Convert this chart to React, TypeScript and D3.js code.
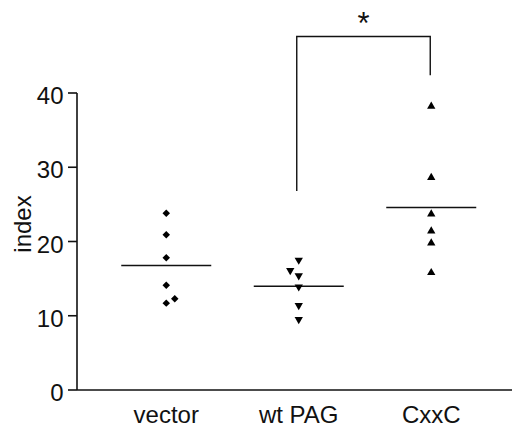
import React from "react";
import * as d3 from "d3";

const categories = ["vector", "wt PAG", "CxxC"];
const vectorValues = [23.8, 20.9, 17.8, 14.1, 11.7, 12.3];
const wtPagValues = [17.5, 16.1, 15.4, 13.9, 11.4, 9.5];
const cxxcValues = [38.2, 28.6, 23.7, 21.4, 19.8, 15.8];
// side-step for overlapping points (-1 left, 1 right)
const vectorDodge = [0, 0, 0, 0, 0, 1];
const wtPagDodge = [0, -1, 0, 0, 0, 0];
const cxxcDodge = [0, 0, 0, 0, 0, 0];
const yTicks = [0, 10, 20, 30, 40];

// significance bracket, in data units
const bracketTop = 47.6;
const bracketLeftEnd = 26.8;
const bracketRightEnd = 42.4;

const W = 512;
const H = 427;
const font = "'Liberation Sans', Arial, sans-serif";

export default function App() {
  const x = d3.scaleBand<string>().domain(categories).range([100, 497.5]);
  const y = d3.scaleLinear().domain([0, 40]).range([390, 93]);
  const cx = (c: string) => (x(c) as number) + x.bandwidth() / 2;

  const groups = [
    { name: categories[0], values: vectorValues, dodge: vectorDodge, shape: "diamond" },
    { name: categories[1], values: wtPagValues, dodge: wtPagDodge, shape: "down" },
    { name: categories[2], values: cxxcValues, dodge: cxxcDodge, shape: "up" },
  ];

  const diamond = d3.symbol(d3.symbolSquare, 28)();
  const tri = d3.symbol(d3.symbolTriangle, 30)();
  const markerPath = (shape: string) => (shape === "diamond" ? diamond : tri);
  const markerRot = (shape: string) => (shape === "diamond" ? 45 : shape === "down" ? 180 : 0);

  const x0 = 77;
  const leftX = cx(categories[1]) - 2;
  const rightX = cx(categories[2]) - 1;

  return (
    <svg width={W} height={H} style={{ position: "absolute", left: 0, top: 0 }} fontFamily={font}>
      <rect width={W} height={H} fill="#fff" />

      {/* y axis */}
      <line x1={x0} x2={x0} y1={y(40)} y2={y(0)} stroke="#111" strokeWidth={1.6} />
      {yTicks.map((t) => (
        <g key={t}>
          <line x1={x0 - 9} x2={x0} y1={y(t)} y2={y(t)} stroke="#111" strokeWidth={1.6} />
          <text x={x0 - 13.5} y={y(t) + 11} textAnchor="end" fontSize={24} fill="#111">
            {t}
          </text>
        </g>
      ))}
      <text transform={`translate(31,224) rotate(-90)`} textAnchor="middle" fontSize={24} fill="#111">
        index
      </text>

      {/* x axis */}
      <line x1={x0} x2={W} y1={y(0)} y2={y(0)} stroke="#111" strokeWidth={1.6} />
      {categories.map((c) => (
        <text key={c} x={cx(c)} y={423} textAnchor="middle" fontSize={24} fill="#111">
          {c}
        </text>
      ))}

      {/* points and means */}
      {groups.map((g) => {
        const m = d3.mean(g.values) as number;
        const c = cx(g.name);
        return (
          <g key={g.name}>
            <line x1={c - 45} x2={c + 45} y1={y(m)} y2={y(m)} stroke="#111" strokeWidth={1.6} />
            {g.values.map((v, i) => (
              <path
                key={i}
                d={markerPath(g.shape) as string}
                transform={`translate(${c + g.dodge[i] * 8.5},${y(v)}) rotate(${markerRot(g.shape)})`}
                fill="#000"
              />
            ))}
          </g>
        );
      })}

      {/* significance bracket */}
      <path
        d={`M${leftX},${y(bracketLeftEnd)}V${y(bracketTop)}H${rightX}V${y(bracketRightEnd)}`}
        fill="none"
        stroke="#111"
        strokeWidth={1.4}
      />
      <text x={(leftX + rightX) / 2} y={34} textAnchor="middle" fontSize={31} fill="#111">
        *
      </text>
    </svg>
  );
}
